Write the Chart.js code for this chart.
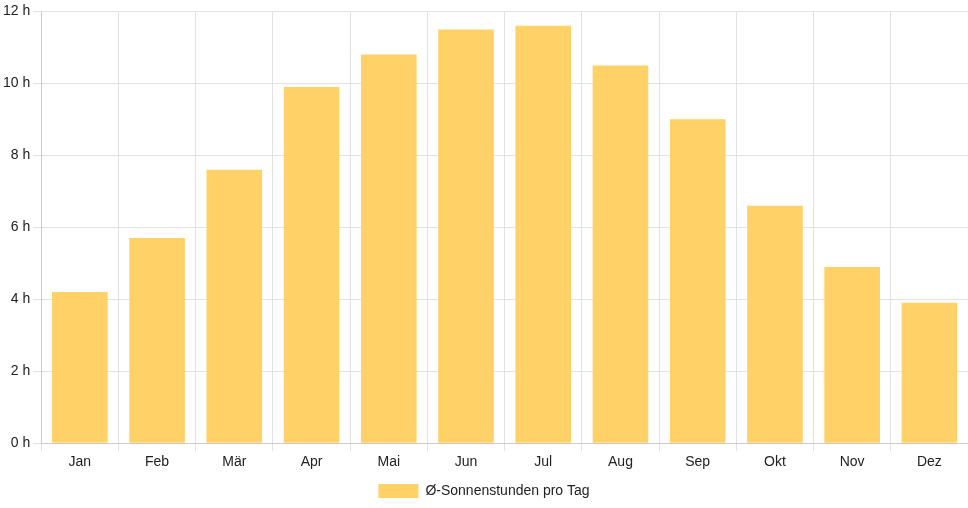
<!DOCTYPE html>
<html lang="de">
<head>
<meta charset="UTF-8">
<title>Sonnenstunden</title>
<script src="https://cdn.jsdelivr.net/npm/chart.js"></script>
<style>
  html, body { margin: 0; padding: 0; background: #fff; }
  #wrap { width: 968px; height: 508px; }
</style>
</head>
<body>
<div id="wrap"><canvas id="sunChart"></canvas></div>
<script>
const months = ['Jan', 'Feb', 'Mär', 'Apr', 'Mai', 'Jun', 'Jul', 'Aug', 'Sep', 'Okt', 'Nov', 'Dez'];
const sunHours = [4.2, 5.7, 7.6, 9.9, 10.8, 11.5, 11.6, 10.5, 9.0, 6.6, 4.9, 3.9];
const seriesLabel = 'Ø-Sonnenstunden pro Tag';

Chart.defaults.font.family = '"Liberation Sans", Arial, sans-serif';
Chart.defaults.font.size = 14;
Chart.defaults.color = '#222';

new Chart(document.getElementById('sunChart'), {
    type: 'bar',
    data: {
        labels: months,
        datasets: [{
            label: seriesLabel,
            data: sunHours,
            backgroundColor: '#FFD166',
            borderWidth: 0
        }]
    },
    options: {
        responsive: true,
        maintainAspectRatio: false,
        animation: false,
        layout: { padding: 0 },
        plugins: {
            legend: { position: 'bottom' },
            tooltip: { enabled: false }
        },
        scales: {
            y: {
                min: 0,
                max: 12,
                ticks: { stepSize: 2, callback: v => v + ' h' },
                grid: { color: '#e2e2e2' }
            },
            x: {
                grid: { color: '#e2e2e2' }
            }
        }
    }
});
</script>
</body>
</html>
